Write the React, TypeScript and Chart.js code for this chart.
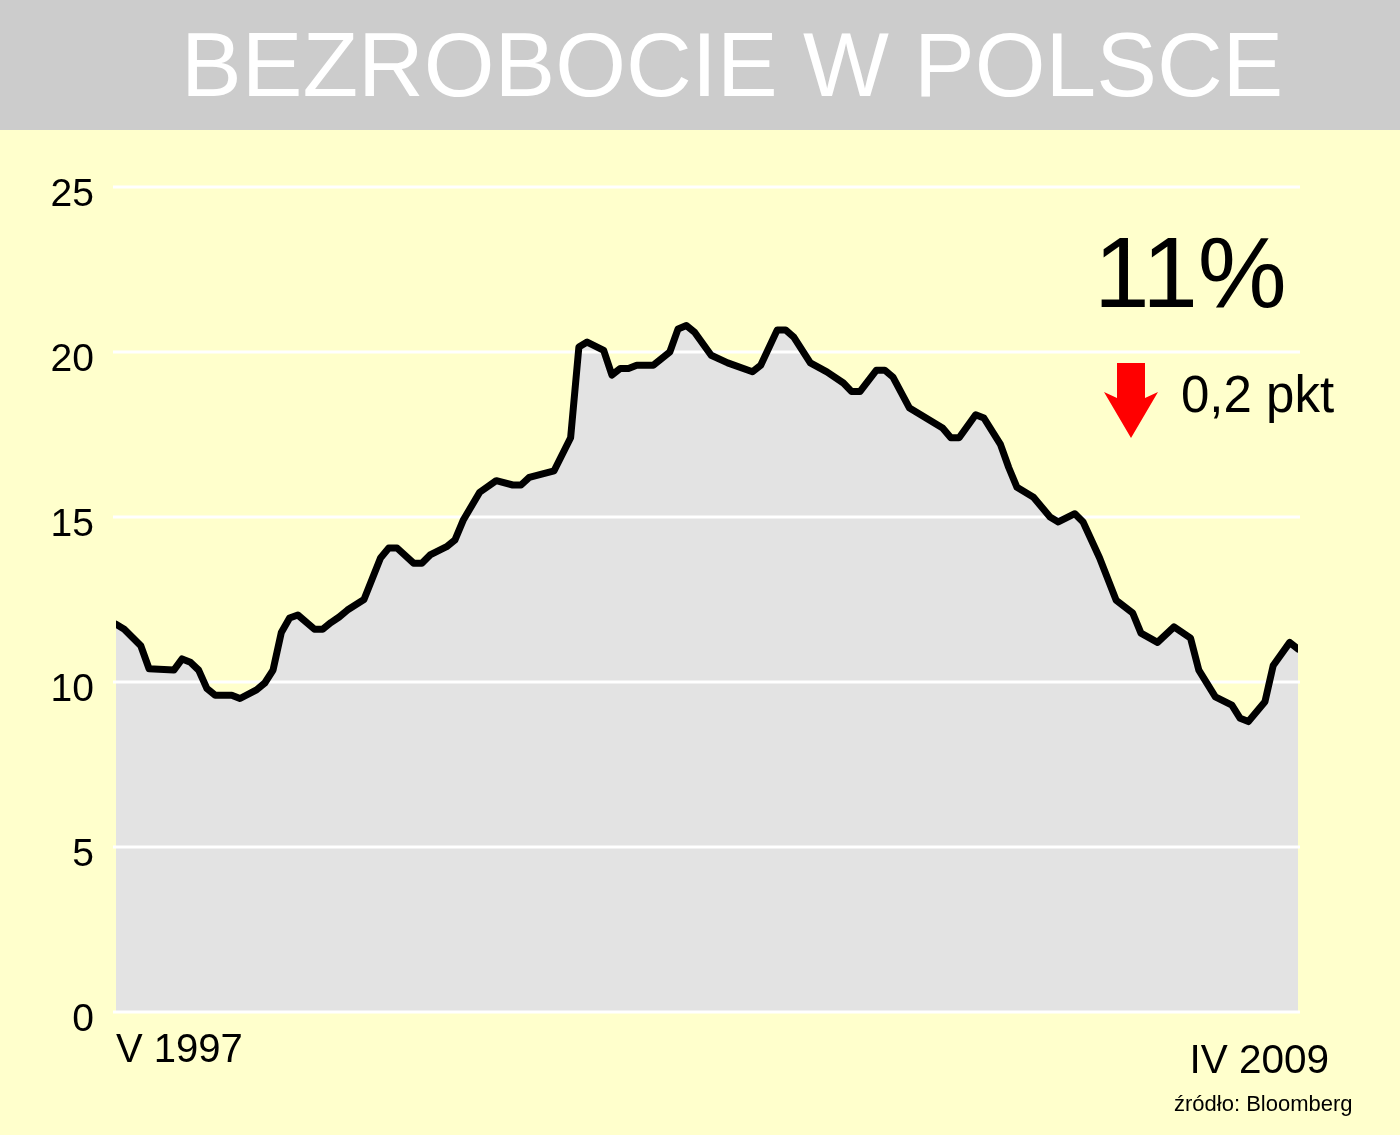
import { useEffect, useRef } from "react";
import { Chart, registerables } from "chart.js";
Chart.register(...registerables);

// months counted from V 1997 (index 0) to IV 2009 (index 143)
const MONTHS = [
  0, 1, 3, 4, 7, 8, 9, 10, 11, 12, 14, 15, 17, 18, 19, 20, 21, 22, 24, 25, 26, 27, 28, 30,
  32, 33, 34, 36, 37, 38, 40, 41, 42, 44, 46, 48, 49, 50, 53, 54, 55, 56, 57, 59, 60, 61,
  62, 63, 65, 67, 68, 69, 70, 72, 74, 77, 78, 80, 81, 82, 84, 86, 88, 89, 90, 92, 93, 94,
  96, 98, 100, 101, 102, 104, 105, 107, 108, 109, 111, 113, 114, 116, 117, 119, 121, 123,
  124, 126, 128, 130, 131, 133, 135, 136, 137, 139, 140, 142, 143,
];
const RATE = [
  11.75, 11.6, 11.1, 10.4, 10.36, 10.7, 10.6, 10.36, 9.8, 9.6, 9.6, 9.5, 9.76, 9.97, 10.36, 11.5,
  11.94, 12.03, 11.6, 11.6, 11.8, 11.97, 12.18, 12.5, 13.76, 14.06, 14.06, 13.6, 13.6, 13.85,
  14.1, 14.3, 14.9, 15.75, 16.1, 15.97, 15.97, 16.2, 16.4, 16.9, 17.4, 20.15, 20.3, 20.05, 19.3,
  19.5, 19.5, 19.6, 19.6, 20.0, 20.7, 20.8, 20.6, 19.9, 19.67, 19.4, 19.6, 20.67, 20.67, 20.45,
  19.67, 19.4, 19.06, 18.8, 18.8, 19.45, 19.45, 19.24, 18.3, 18.0, 17.7, 17.4, 17.4, 18.1, 18.0,
  17.2, 16.5, 15.9, 15.6, 15.0, 14.85, 15.1, 14.85, 13.76, 12.48, 12.09, 11.48, 11.2, 11.67,
  11.33, 10.36, 9.55, 9.3, 8.9, 8.8, 9.4, 10.5, 11.2, 11.0,
];
const Y_TICKS = [0, 5, 10, 15, 20, 25];
const START_LABEL = "V 1997";
const END_LABEL = "IV 2009";

const FONT = "'Liberation Sans', Arial, sans-serif";

export default function App() {
  const canvasRef = useRef<HTMLCanvasElement>(null);
  const chartRef = useRef<Chart | null>(null);

  useEffect(() => {
    document.body.style.margin = "0";
    if (!canvasRef.current) return;
    chartRef.current?.destroy();
    const points = MONTHS.map((m, i) => ({ x: m, y: RATE[i] }));

    // white grid lines drawn over the grey fill, but under the black line
    const gridPlugin = {
      id: "gridOverFill",
      beforeDatasetDraw(chart: any, args: any) {
        if (args.index !== 1) return;
        const { ctx, chartArea, scales } = chart;
        ctx.save();
        ctx.strokeStyle = "#ffffff";
        ctx.lineWidth = 3;
        Y_TICKS.forEach(t => {
          const y = Math.round(scales.y.getPixelForValue(t));
          ctx.beginPath();
          ctx.moveTo(chartArea.left - 3, y);
          ctx.lineTo(chartArea.right + 2, y);
          ctx.stroke();
        });
        ctx.restore();
      },
    };

    chartRef.current = new Chart(canvasRef.current, {
      type: "line",
      data: {
        datasets: [
          {
            data: points, fill: "origin", backgroundColor: "#e3e3e3",
            borderWidth: 0, pointRadius: 0, tension: 0, order: 2,
          },
          {
            data: points, fill: false, borderColor: "#000000", borderWidth: 7,
            borderJoinStyle: "round", borderCapStyle: "round",
            pointRadius: 0, tension: 0, order: 1,
          },
        ],
      },
      options: {
        responsive: false,
        animation: false,
        layout: { padding: { left: 0, right: 102, top: 57, bottom: 123 } },
        plugins: { legend: { display: false }, tooltip: { enabled: false } },
        scales: {
          x: { type: "linear", min: 0, max: 143, display: false },
          y: {
            min: 0, max: 25,
            afterFit: (s: any) => { s.width = 116; },
            afterBuildTicks: (s: any) => { s.ticks = Y_TICKS.map(v => ({ value: v })); },
            border: { display: false },
            grid: { display: false, drawTicks: false },
            ticks: {
              color: "#000", padding: 22, labelOffset: 8,
              font: { size: 39, family: FONT },
            },
          },
        },
      },
      plugins: [gridPlugin],
    });
    return () => { chartRef.current?.destroy(); chartRef.current = null; };
  }, []);

  const txt = (extra: React.CSSProperties): React.CSSProperties => ({
    position: "absolute", fontFamily: FONT, lineHeight: 1, color: "#000", whiteSpace: "nowrap", ...extra,
  });

  return (
    <div style={{ position: "relative", width: 1400, height: 1135, background: "#ffffcc", overflow: "hidden" }}>
      <div style={{ position: "absolute", left: 0, top: 0, width: 1400, height: 130, background: "#cccccc" }}>
        <div style={txt({ left: 181, top: 19, fontSize: 91, color: "#ffffff" })}>BEZROBOCIE W POLSCE</div>
      </div>
      <canvas ref={canvasRef} width={1400} height={1005}
        style={{ position: "absolute", left: 0, top: 130, width: 1400, height: 1005 }} />
      <div style={txt({ left: 1094, top: 222, fontSize: 100 })}>11%</div>
      <svg width={60} height={80} style={{ position: "absolute", left: 1101, top: 361 }}>
        <polygon points="16,2 44,2 44,37 57,31 30,77 3,31 16,37" fill="#ff0000" />
      </svg>
      <div style={txt({ left: 1181, top: 369, fontSize: 51 })}>0,2 pkt</div>
      <div style={txt({ left: 116, top: 1028, fontSize: 40 })}>{START_LABEL}</div>
      <div style={txt({ right: 71, top: 1039, fontSize: 40.5 })}>{END_LABEL}</div>
      <div style={txt({ left: 1174, top: 1093, fontSize: 22 })}>źródło: Bloomberg</div>
    </div>
  );
}
